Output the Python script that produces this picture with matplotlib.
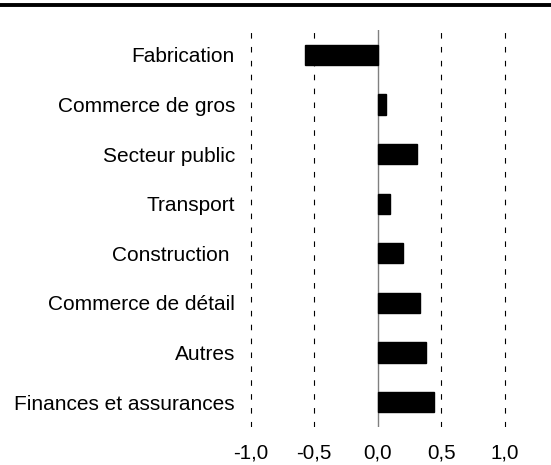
import matplotlib
matplotlib.use("Agg")
import matplotlib.pyplot as plt
from matplotlib.lines import Line2D

# Données
secteurs = ["Fabrication", "Commerce de gros", "Secteur public", "Transport",
            "Construction ", "Commerce de détail", "Autres", "Finances et assurances"]
valeurs = [-0.573, 0.065, 0.306, 0.096, 0.198, 0.335, 0.379, 0.439]
graduations = [-1.0, -0.5, 0.0, 0.5, 1.0]
etiquettes_x = ["-1,0", "-0,5", "0,0", "0,5", "1,0"]

plt.rcParams["font.family"] = ["Liberation Sans", "DejaVu Sans"]

fig = plt.figure(figsize=(5.51, 4.65), dpi=100)
ax = fig.add_axes([0.4501, 0.0817, 0.4710, 0.8538])

# Barres horizontales
positions = list(range(len(secteurs)))
ax.barh(positions, valeurs, height=0.41, color="black", edgecolor="black", zorder=3)

# Lignes de grille pointillées et axe zéro
for g in graduations:
    if g == 0:
        ax.axvline(g, color="#808080", lw=1.0, zorder=2)
    else:
        ax.axvline(g, color="black", lw=0.8, dashes=(5, 7.5), zorder=1)

ax.set_xlim(-1.02, 1.02)
ax.set_ylim(len(secteurs) - 0.5, -0.5)

ax.set_yticks(positions)
ax.set_yticklabels(secteurs, fontsize=15)
ax.set_xticks(graduations)
ax.set_xticklabels(etiquettes_x, fontsize=14.8)
ax.tick_params(axis="y", length=0, pad=9.4)
ax.tick_params(axis="x", length=0, pad=12)

for s in ax.spines.values():
    s.set_visible(False)

# Ligne épaisse en haut
fig.add_artist(Line2D([0, 1], [0.9888, 0.9888], color="black", lw=2.8,
                      transform=fig.transFigure))

fig.savefig("out.png", dpi=100)
